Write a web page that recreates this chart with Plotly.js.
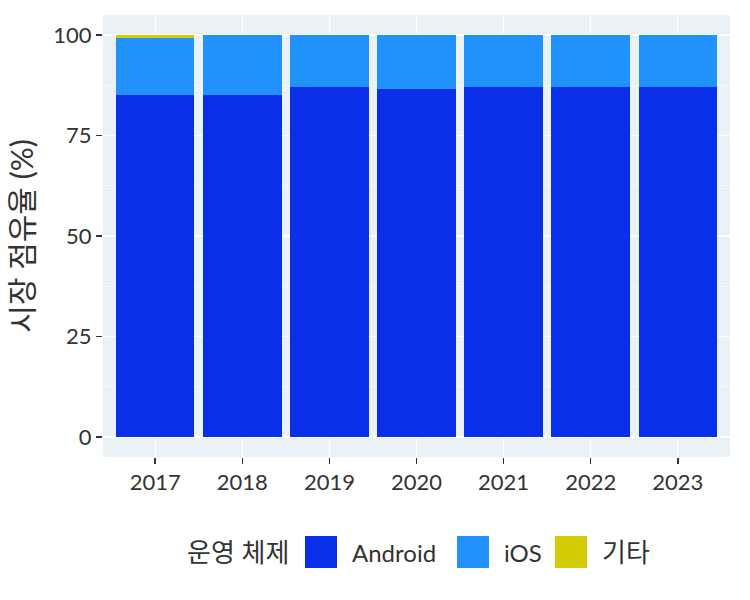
<!DOCTYPE html>
<html>
<head>
<meta charset="utf-8">
<script src="https://cdn.plot.ly/plotly-3.0.1.min.js"></script>
<style>
  html, body { margin: 0; padding: 0; background: #fff; }
  #chart { width: 750px; height: 600px; }
</style>
</head>
<body>
<div id="chart"></div>
<script>
// values (percent)
const years = ['2017', '2018', '2019', '2020', '2021', '2022', '2023'];
const android = [85.1, 85.0, 87.1, 86.6, 87.1, 87.1, 87.0];
const ios = [14.3, 15.0, 12.9, 13.4, 12.9, 12.9, 13.0];
const other = [0.6, 0, 0, 0, 0, 0, 0];
const seriesNames = ['Android', 'iOS', '기타'];
const legendTitle = '운영 체제';
const yTicks = [0, 25, 50, 75, 100];

const COLORS = ['#0A2FE8', '#2191FB', '#D2CB06'];
const FONT = "Lato, 'Noto Sans CJK KR', sans-serif";
const TEXT = '#333333';

// plot area in pixels
const PLOT = { l: 103, r: 730, t: 15, b: 457 };
const px2x = px => (px - PLOT.l) / (PLOT.r - PLOT.l);
const px2y = py => (PLOT.b - py) / (PLOT.b - PLOT.t);

const traces = [android, ios, other].map((vals, i) => ({
    type: 'bar',
    x: years,
    y: vals,
    name: seriesNames[i],
    marker: { color: COLORS[i], line: { width: 0 } },
    showlegend: false,
    hovertemplate: '%{x}: %{y}%<extra>' + seriesNames[i] + '</extra>',
}));

// hand drawn legend, the bar legend swatches are too small
const legendY = 552;
const boxSize = 32;
const boxLeft = [305, 457, 555];
const shapes = [];
const annotations = [{
    xref: 'paper', yref: 'paper',
    x: px2x(291), y: px2y(legendY),
    xanchor: 'right', yanchor: 'middle',
    text: legendTitle, showarrow: false,
    font: { family: FONT, size: 26, color: TEXT },
}];
seriesNames.forEach((name, i) => {
    shapes.push({
        type: 'rect', xref: 'paper', yref: 'paper',
        x0: px2x(boxLeft[i]), x1: px2x(boxLeft[i] + boxSize),
        y0: px2y(legendY - boxSize / 2), y1: px2y(legendY + boxSize / 2),
        fillcolor: COLORS[i], line: { width: 0 },
    });
    annotations.push({
        xref: 'paper', yref: 'paper',
        x: px2x(boxLeft[i] + boxSize + 13), y: px2y(legendY),
        xanchor: 'left', yanchor: 'middle',
        text: name, showarrow: false,
        font: { family: FONT, size: name === '기타' ? 26 : 24, color: TEXT },
    });
});

const layout = {
    width: 750,
    height: 600,
    margin: { l: PLOT.l, r: 750 - PLOT.r, t: PLOT.t, b: 600 - PLOT.b },
    paper_bgcolor: '#ffffff',
    plot_bgcolor: '#EBF2F6',
    barmode: 'stack',
    bargap: 0.1,
    font: { family: FONT, color: TEXT },
    xaxis: {
        type: 'category',
        range: [-0.6, 6.6],
        showgrid: true,
        gridcolor: '#ffffff',
        gridwidth: 1.2,
        zeroline: false,
        ticks: 'outside',
        ticklen: 6,
        tickwidth: 1.6,
        tickcolor: TEXT,
        tickfont: { family: FONT, size: 22, color: TEXT },
    },
    yaxis: {
        range: [-5, 105],
        tickvals: yTicks,
        showgrid: true,
        gridcolor: '#ffffff',
        gridwidth: 1.2,
        zeroline: false,
        minor: { dtick: 12.5, tick0: 0, showgrid: true, gridcolor: '#ffffff', gridwidth: 0.6 },
        ticks: 'outside',
        ticklen: 6,
        tickwidth: 1.6,
        tickcolor: TEXT,
        tickfont: { family: FONT, size: 22, color: TEXT },
        title: { text: '시장 점유율 (%)', font: { family: FONT, size: 30, color: TEXT } },
    },
    shapes: shapes,
    annotations: annotations,
};

Plotly.newPlot('chart', traces, layout, { displayModeBar: false, staticPlot: true });
</script>
</body>
</html>
